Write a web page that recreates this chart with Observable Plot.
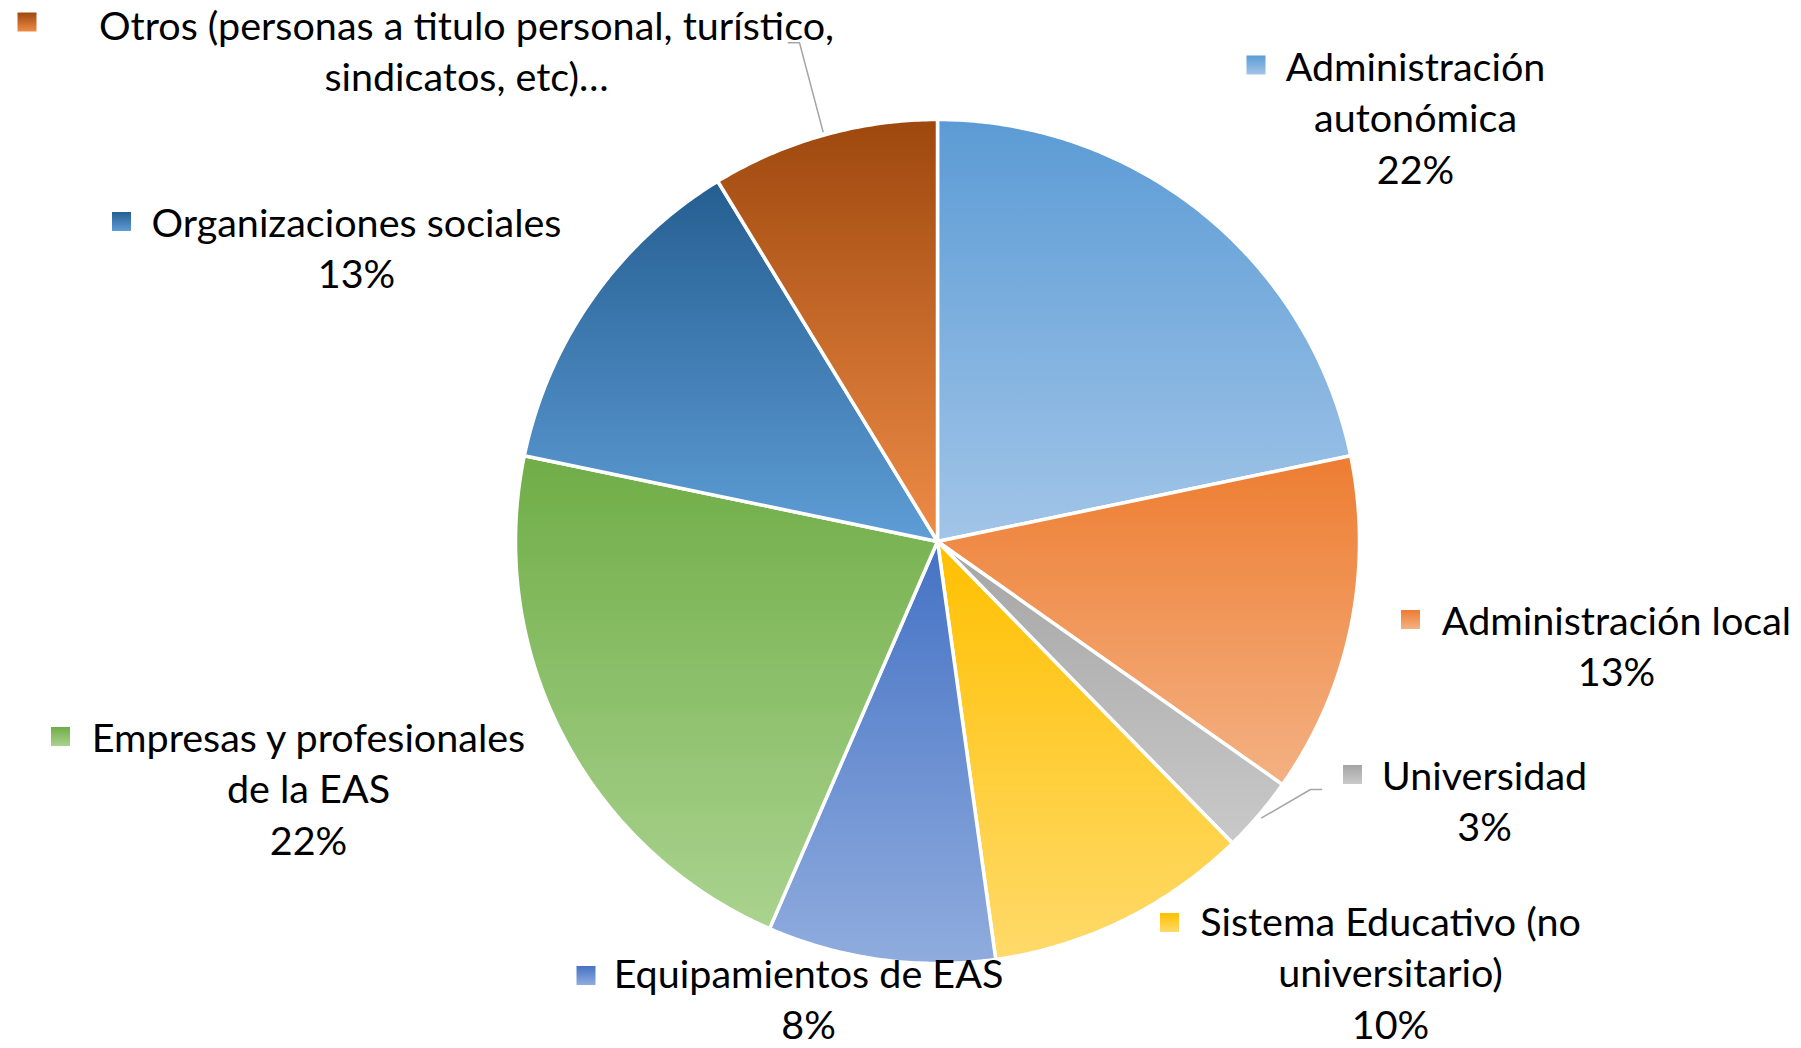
<!DOCTYPE html>
<html>
<head>
<meta charset="utf-8">
<script src="https://cdn.jsdelivr.net/npm/d3@7"></script>
<script src="https://cdn.jsdelivr.net/npm/@observablehq/plot@0.6"></script>
<style>
  html, body { margin: 0; padding: 0; background: #ffffff; }
  #chart svg { display: block; }
</style>
</head>
<body>
<div id="chart"></div>
<script>
// ---------- data ----------
const categories = [
  "Administración autonómica",
  "Administración local",
  "Universidad",
  "Sistema Educativo (no universitario)",
  "Equipamientos de EAS",
  "Empresas y profesionales de la EAS",
  "Organizaciones sociales",
  "Otros (personas a titulo personal, turístico, sindicatos, etc)…"
];
const shares = [21.7, 13.0, 2.9, 10.1, 8.7, 21.7, 13.0, 8.7];
const pctLabels = ["22%", "13%", "3%", "10%", "8%", "22%", "13%", ""];
const labelLines = [
  ["Administración", "autonómica"],
  ["Administración local"],
  ["Universidad"],
  ["Sistema Educativo (no", "universitario)"],
  ["Equipamientos de EAS"],
  ["Empresas y profesionales", "de la EAS"],
  ["Organizaciones sociales"],
  ["Otros (personas a titulo personal, turístico,", "sindicatos, etc)…"]
];
const gradTop    = ["#5B9BD5", "#ED7D31", "#A5A5A5", "#FFC000", "#4472C4", "#70AD47", "#255E91", "#9E480E"];
const gradBottom = ["#A2C5E8", "#F4B183", "#C9C9C9", "#FFDA6A", "#90ACDE", "#AAD38F", "#5E9DD6", "#EE8C47"];

// ---------- layout (pixels) ----------
const W = 1801, H = 1048;
const pie = {cx: 937, cy: 541, r: 422};
const font = {family: "Lato, 'Open Sans', sans-serif", size: 39.5, lineGap: 51.5};
const labelPos = [ // text centre x, first baseline y, key square centre
  {x: 1415, y: 80,  kx: 1255.5, ky: 64.5},
  {x: 1616, y: 634, kx: 1410,   ky: 619},
  {x: 1484, y: 789, kx: 1352,   ky: 774},
  {x: 1390, y: 935, kx: 1169,   ky: 922},
  {x: 808,  y: 987, kx: 585.5,  ky: 975},
  {x: 308,  y: 751, kx: 60,     ky: 736},
  {x: 356,  y: 236, kx: 121,    ky: 221},
  {x: 466,  y: 39,  kx: 26.5,   ky: 21.5}
];
const leaders = [
  {slice: 2, pts: [[1321.7, 789], [1310, 789], [1260.7, 817.7]]},
  {slice: 7, pts: [[787.3, 42.3], [799, 42.3], [822.7, 131.7]]}
];

const ux = px => (px - pie.cx) / pie.r;
const uy = py => (pie.cy - py) / pie.r;

// ---------- derived tables ----------
const arcs = d3.pie().sort(null).value(d => d)(shares);
const slicePts = [];
arcs.forEach((a, i) => {
  const n = Math.max(2, Math.ceil((a.endAngle - a.startAngle) / (Math.PI / 360)));
  slicePts.push({i, x: 0, y: 0});
  for (let k = 0; k <= n; k++) {
    const t = a.startAngle + (a.endAngle - a.startAngle) * k / n;
    slicePts.push({i, x: Math.sin(t), y: Math.cos(t)});
  }
  slicePts.push({i, x: 0, y: 0});
});

const textRows = [];
labelLines.forEach((lines, i) => {
  const all = pctLabels[i] ? [...lines, pctLabels[i]] : lines;
  all.forEach((t, k) => textRows.push({
    text: t,
    x: ux(labelPos[i].x),
    y: uy(labelPos[i].y + k * font.lineGap)
  }));
});

const keys = categories.map((c, i) => ({i, x: ux(labelPos[i].kx), y: uy(labelPos[i].ky)}));

const leaderPts = [];
leaders.forEach((l, j) => l.pts.forEach(([px, py]) => leaderPts.push({j, x: ux(px), y: uy(py)})));

const gradId = i => `grad-${i}`;
const gradUrl = i => `url(#${gradId(i)})`;

function defsMark() {
  const ns = "http://www.w3.org/2000/svg";
  const defs = document.createElementNS(ns, "defs");
  categories.forEach((c, i) => {
    const g = document.createElementNS(ns, "linearGradient");
    g.setAttribute("id", gradId(i));
    g.setAttribute("x1", "0"); g.setAttribute("y1", "0");
    g.setAttribute("x2", "0"); g.setAttribute("y2", "1");
    [[0, gradTop[i]], [1, gradBottom[i]]].forEach(([o, col]) => {
      const s = document.createElementNS(ns, "stop");
      s.setAttribute("offset", o);
      s.setAttribute("stop-color", col);
      g.appendChild(s);
    });
    defs.appendChild(g);
  });
  return defs;
}

const chart = Plot.plot({
  width: W,
  height: H,
  margin: 0,
  style: {background: "#ffffff", fontFamily: font.family},
  x: {domain: [ux(0), ux(W)], range: [0, W], axis: null},
  y: {domain: [uy(H), uy(0)], range: [H, 0], axis: null},
  color: {type: "identity"},
  marks: [
    defsMark,
    Plot.line(slicePts, {
      x: "x", y: "y", z: "i",
      fill: d => gradUrl(d.i),
      stroke: "#ffffff",
      strokeWidth: 3.5,
      strokeLinejoin: "round",
      curve: "linear"
    }),
    Plot.line(leaderPts, {
      x: "x", y: "y", z: "j",
      stroke: "#A6A6A6",
      strokeWidth: 1.5,
      strokeLinejoin: "miter",
      strokeLinecap: "butt"
    }),
    Plot.dot(keys, {
      x: "x", y: "y",
      symbol: "square",
      r: 19 / Math.sqrt(Math.PI),
      fill: d => gradUrl(d.i),
      stroke: null
    }),
    Plot.text(textRows, {
      x: "x", y: "y", text: "text",
      textAnchor: "middle",
      lineAnchor: "bottom",
      fontSize: font.size,
      fontFamily: font.family,
      fill: "#000000"
    })
  ]
});

document.getElementById("chart").appendChild(chart);
</script>
</body>
</html>
